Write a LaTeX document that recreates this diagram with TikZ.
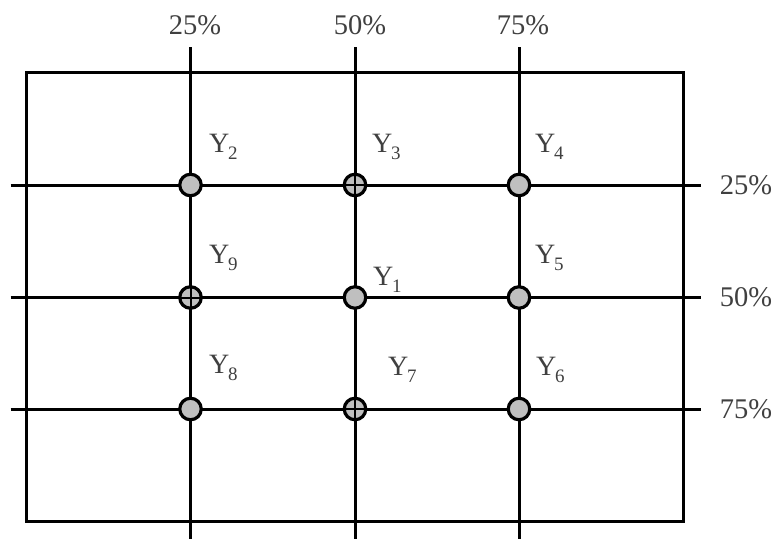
\documentclass[tikz,border=0pt]{standalone}
\usepackage{fontspec}
\setmainfont{Liberation Serif}
\newcommand\ysub[2]{#1\kern-0.05em\raisebox{-0.28em}{\fontsize{19}{19}\selectfont #2}}
\begin{document}
\begin{tikzpicture}[x=1pt,y=-1pt,
  gridline/.style={line width=3pt,black},
  frame/.style={line width=3pt,black},
  pt/.style={circle,draw=black,fill=gray!50,line width=3.2pt,minimum size=21.5pt,inner sep=0pt},
  crosspt/.style={pt,path picture={
      \draw[line width=2pt] (path picture bounding box.north) -- (path picture bounding box.south);
      \draw[line width=2pt] (path picture bounding box.west) -- (path picture bounding box.east);}},
  pct/.style={font=\fontsize{28.5}{28.5}\selectfont,text=black!75,inner sep=0pt},
  ylab/.style={font=\fontsize{28}{28}\selectfont,text=black!75,inner sep=0pt,anchor=base west}]
\useasboundingbox (0,0) rectangle (780,539);
\fill[white] (0,0) rectangle (780,539);
% frame
\draw[frame] (26,72.5) rectangle (683.5,521.5);
% grid line end points
\coordinate (vt1) at (190.5,47); \coordinate (vb1) at (190.5,539);
\coordinate (vt2) at (355,47);   \coordinate (vb2) at (355,539);
\coordinate (vt3) at (519,47);   \coordinate (vb3) at (519,539);
\coordinate (hl1) at (10.5,185);   \coordinate (hr1) at (701,185);
\coordinate (hl2) at (10.5,297.5); \coordinate (hr2) at (701,297.5);
\coordinate (hl3) at (10.5,409);   \coordinate (hr3) at (701,409);
\draw[gridline] (vt1) -- (vb1);
\draw[gridline] (vt2) -- (vb2);
\draw[gridline] (vt3) -- (vb3);
\draw[gridline] (hl1) -- (hr1);
\draw[gridline] (hl2) -- (hr2);
\draw[gridline] (hl3) -- (hr3);
% points
\node[pt]      (p2) at (190.5,185) {};
\node[crosspt] (p3) at (355,185) {};
\node[pt]      (p4) at (519,185) {};
\node[crosspt] (p9) at (190.5,297.5) {};
\node[pt]      (p1) at (355,297.5) {};
\node[pt]      (p5) at (519,297.5) {};
\node[pt]      (p8) at (190.5,409) {};
\node[crosspt] (p7) at (355,409) {};
\node[pt]      (p6) at (519,409) {};
% labels
\node[ylab] (l2) at (209,152) {\ysub{Y}{2}};
\node[ylab] (l3) at (372,152) {\ysub{Y}{3}};
\node[ylab] (l4) at (535,152) {\ysub{Y}{4}};
\node[ylab] (l9) at (209,263) {\ysub{Y}{9}};
\node[ylab] (l1) at (373,285) {\ysub{Y}{1}};
\node[ylab] (l5) at (535,263) {\ysub{Y}{5}};
\node[ylab] (l8) at (209,373) {\ysub{Y}{8}};
\node[ylab] (l7) at (388,375) {\ysub{Y}{7}};
\node[ylab] (l6) at (536,375) {\ysub{Y}{6}};
% percentages
\node[pct] (t1) at (195,25) {25\%};
\node[pct] (t2) at (360,25) {50\%};
\node[pct] (t3) at (523,25) {75\%};
\node[pct] (r1) at (746,185) {25\%};
\node[pct] (r2) at (746,297.5) {50\%};
\node[pct] (r3) at (746,409) {75\%};
\end{tikzpicture}
\end{document}
